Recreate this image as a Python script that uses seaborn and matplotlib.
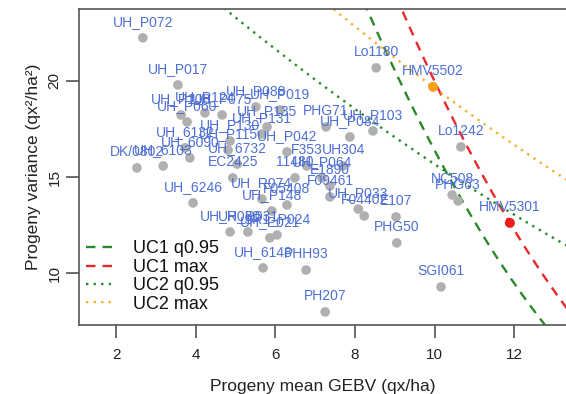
import numpy as np
import pandas as pd
import matplotlib
matplotlib.use("Agg")
import matplotlib.pyplot as plt
import seaborn as sns

# ---- data ----
names = ["UH_P072", "UH_P017", "UH_P108", "UH_P124", "UH_P060", "UH_P075", "UH_P088",
         "UH_P019", "UH_P135", "UH_P131", "UH_P130", "UH_6132", "UH_P115", "UH_P042",
         "UH_6090", "UH_6732", "EC2425", "DK/0802", "UH_6103", "PHG71", "UH_P103",
         "UH_P084", "F353", "UH304", "11480", "UH_P064", "E1890", "F09461", "UH_P033",
         "F04402", "E107", "PHG50", "SGI061", "PH207", "PHH93", "UH_6148", "UH_6246",
         "NC508", "PHG63", "HMV5301", "HMV5502", "Lo1180", "Lo1242", "UH_R074",
         "UH_P148", "F05408", "UH_R030", "UH_R031", "SR1_P024", "UH_P021"]
prog_mean = [2.67, 3.55, 3.63, 4.23, 3.78, 4.66, 5.51,
             6.12, 5.79, 5.66, 4.86, 3.73, 4.81, 6.29,
             3.85, 5.04, 4.93, 2.52, 3.18, 7.27, 8.45,
             7.87, 6.79, 7.70, 6.49, 7.17, 7.37, 7.37, 8.08,
             8.23, 9.03, 9.05, 10.16, 7.25, 6.77, 5.69, 3.93,
             10.44, 10.59, 11.89, 9.96, 8.53, 10.66, 5.66,
             5.91, 6.29, 4.86, 5.31, 6.04, 5.86]
prog_var = [22.24, 19.79, 18.23, 18.34, 17.87, 18.23, 18.65,
            18.49, 17.61, 17.24, 16.88, 16.52, 16.41, 16.31,
            16.00, 15.68, 14.96, 15.48, 15.58, 17.61, 17.40,
            17.09, 15.58, 15.58, 14.96, 14.96, 14.54, 13.97, 13.34,
            12.98, 12.93, 11.58, 9.29, 7.99, 10.17, 10.28, 13.66,
            14.07, 13.76, 12.62, 19.69, 20.68, 16.57, 13.86,
            13.24, 13.55, 12.15, 12.15, 11.99, 11.84]
best_uc1 = "HMV5301"
best_uc2 = "HMV5502"

# usefulness criterion contours: mean + k * sd = UC
uc_labels = ["UC1 q0.95", "UC1 max", "UC2 q0.95", "UC2 max"]
uc_values = [18.35, 19.22, 32.80, 35.52]
uc_k = [2.063, 2.063, 5.76, 5.76]
uc_colors = ["#2a8a2a", "#e8282a", "#2a8a2a", "#f7b02c"]
uc_styles = [(0, (4, 3)), (0, (4, 3)), (0, (1, 2.2)), (0, (1, 2.2))]

x_ticks = [2, 4, 6, 8, 10, 12]
y_ticks = [10, 15, 20]

df = pd.DataFrame({"name": names, "mean": prog_mean, "var": prog_var})

# ---- style ----
sns.set_theme(style="ticks")
plt.rcParams["font.family"] = ["Liberation Sans", "DejaVu Sans"]

fig = plt.figure(figsize=(5.66, 3.94), dpi=100)
ax = fig.add_axes([79 / 566, (394 - 325) / 394, 1 - 79 / 566, (325 - 9) / 394])

# contour lines
sd_grid = np.linspace(2.4, 5.2, 300)
for lab, uc, k, col, ls in zip(uc_labels, uc_values, uc_k, uc_colors, uc_styles):
    line_df = pd.DataFrame({"mean": uc - k * sd_grid, "var": sd_grid ** 2})
    sns.lineplot(data=line_df, x="mean", y="var", sort=False, color=col,
                 linestyle=ls, linewidth=1.7, label=lab, ax=ax)

# points
sns.scatterplot(data=df[~df["name"].isin([best_uc1, best_uc2])], x="mean", y="var",
                color="#b0b0b0", s=48, edgecolor="none", ax=ax, legend=False, zorder=3)
sns.scatterplot(data=df[df["name"] == best_uc2], x="mean", y="var",
                color="#f7a21b", s=52, edgecolor="none", ax=ax, legend=False, zorder=4)
sns.scatterplot(data=df[df["name"] == best_uc1], x="mean", y="var",
                color="#ee1c1c", s=52, edgecolor="none", ax=ax, legend=False, zorder=4)

for _, r in df.iterrows():
    ax.annotate(r["name"], (r["mean"], r["var"]), xytext=(0, 11.5),
                textcoords="offset points", ha="center", va="center",
                fontsize=10, color="#4d6fd6", zorder=5)

ax.set_xlim(1.065, 13.30)
ax.set_ylim(7.31, 23.74)
ax.set_xticks(x_ticks)
ax.set_yticks(y_ticks)
ax.set_xticklabels([str(t) for t in x_ticks], fontsize=11)
ax.set_yticklabels([str(t) for t in y_ticks], fontsize=11, rotation=90, va="center")
ax.tick_params(axis="both", direction="out", length=9.5, width=1.1, color="#444444",
               labelcolor="#222222")
ax.tick_params(axis="x", pad=7)
ax.tick_params(axis="y", pad=3)

ax.set_xlabel("Progeny mean GEBV (qx/ha)", fontsize=12.5, labelpad=12, color="#222222")
ax.set_ylabel("Progeny variance (qx²/ha²)", fontsize=12.5, labelpad=5, color="#222222")

for side in ["left", "bottom", "top"]:
    ax.spines[side].set_color("#555555")
    ax.spines[side].set_linewidth(1.2)
ax.spines["right"].set_visible(False)

leg = ax.legend(loc="lower left", bbox_to_anchor=(-0.005, 0.01), frameon=False,
                fontsize=13, handlelength=1.7, handletextpad=0.9, labelspacing=0.08,
                borderaxespad=0.1)
for t in leg.get_texts():
    t.set_color("#111111")

fig.savefig("out.png", dpi=100)
